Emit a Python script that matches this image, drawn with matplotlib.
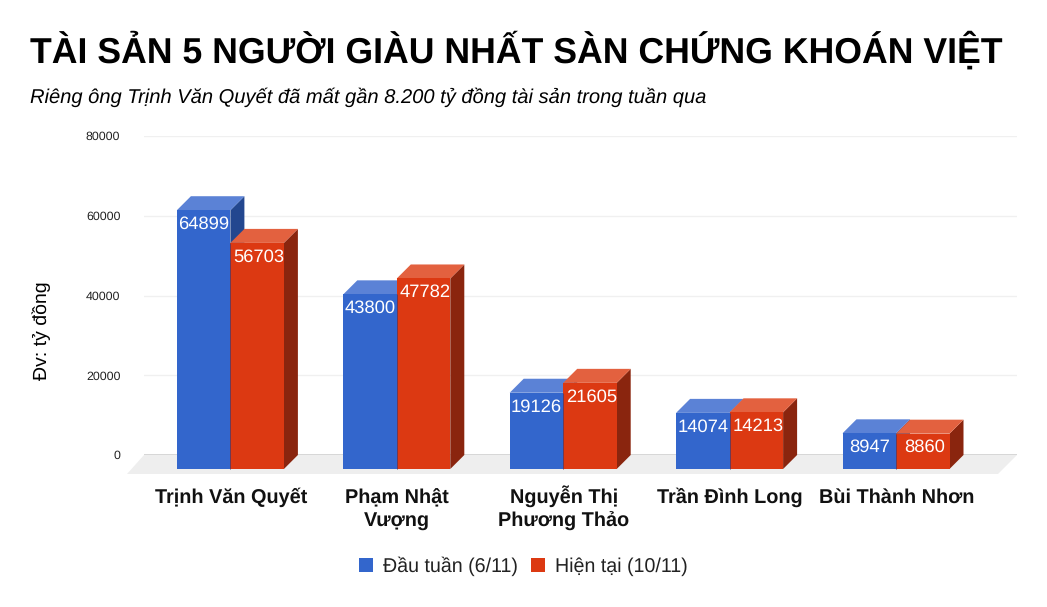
import matplotlib
matplotlib.use("Agg")
import matplotlib.pyplot as plt
from matplotlib.patches import Patch, Polygon

plt.rcParams['font.family'] = ['Liberation Sans', 'DejaVu Sans']
plt.rcParams['text.hinting'] = 'no_hinting'

names = ["Trịnh Văn Quyết", "Phạm Nhật\nVượng", "Nguyễn Thị\nPhương Thảo", "Trần Đình Long", "Bùi Thành Nhơn"]
dau_tuan = [64899, 43800, 19126, 14074, 8947]
hien_tai = [56703, 47782, 21605, 14213, 8860]
y_ticks = [0, 20000, 40000, 60000, 80000]
series_names = ["Đầu tuần (6/11)", "Hiện tại (10/11)"]

W, H = 1047, 607
BLUE = ("#3366cc", "#5b82d6", "#23478f")
RED = ("#dc3912", "#e3613f", "#8a250e")

fig = plt.figure(figsize=(W / 100, H / 100), dpi=100)
# axes box in pixels: x 144..1017, value 0 at y=455, 80000 at y=136
ax = fig.add_axes([144 / W, 1 - 455 / H, 873 / W, 319 / H])
ax.set_xlim((144 - 230.4) / 166.4, (1017 - 230.4) / 166.4)
ax.set_ylim(0, 80000)

px_x = 1 / 166.4
px_y = 80000 / 319
depth_x = 14 * px_x
depth_y = 14 * px_y
bar_w = 53.5 * px_x


def add_poly(pts, color, z):
    ax.add_patch(Polygon(pts, closed=True, facecolor=color, edgecolor="none", clip_on=False, zorder=z))


def bar3d(x0, val, cols, z, label_dx=0):
    # front face sits 14 px below the value line, depth goes up and to the right
    bottom = -depth_y
    top = val - depth_y
    x1 = x0 + bar_w
    add_poly([(x1, bottom), (x1 + depth_x, 0), (x1 + depth_x, val), (x1, top)], cols[2], z)
    add_poly([(x0, top), (x0 + depth_x, val), (x1 + depth_x, val), (x1, top)], cols[1], z)
    add_poly([(x0, bottom), (x1, bottom), (x1, top), (x0, top)], cols[0], z)
    ax.annotate(str(val), (x0 + bar_w / 2, val), xytext=(label_dx, -28), textcoords="offset pixels",
                ha="center", va="center", color="white", fontsize=13.2,
                zorder=z + 1)


# floor
x_l, x_r = ax.get_xlim()
add_poly([(x_l, 0), (x_r, 0), (x_r - 19 * px_x, -19 * px_y), (x_l - 17 * px_x, -19 * px_y)], "#eeeeee", 1)

for t in y_ticks[1:]:
    ax.axhline(t, color="#f0f0f0", lw=1, zorder=0)
ax.axhline(0, color="#333333", lw=1, zorder=2)

for i in range(len(names)):
    bar3d(i - bar_w, dau_tuan[i], BLUE, 3 + i * 2)
    bar3d(i, hien_tai[i], RED, 4 + i * 2, label_dx=1.5)
    # thin dark seam between the two front faces
    ax.plot([i, i], [-depth_y, min(dau_tuan[i], hien_tai[i]) - depth_y], color="#5a3a60", lw=0.6,
            solid_capstyle="butt", clip_on=False, zorder=4 + i * 2)

for s in ax.spines.values():
    s.set_visible(False)
ax.set_yticks(y_ticks)
ax.set_yticklabels([str(t) for t in y_ticks], fontsize=8.9, color="#222222")
ax.tick_params(axis="y", length=0, pad=17)
ax.set_xticks([])

# category labels line by line so the baselines stay level
for i, name in enumerate(names):
    for j, line in enumerate(name.split("\n")):
        ax.annotate(line, (i, 0), xytext=(0.5, -48 - 24 * j), textcoords="offset pixels", ha="center",
                    va="baseline", fontsize=14.3, fontweight="bold", color="#111111", annotation_clip=False)

fig.text(30 / W, 1 - 63 / H, "TÀI SẢN 5 NGƯỜI GIÀU NHẤT SÀN CHỨNG KHOÁN VIỆT", fontsize=25.7,
         fontweight="bold", color="black", ha="left", va="baseline")
fig.text(30 / W, 1 - 103 / H, "Riêng ông Trịnh Văn Quyết đã mất gần 8.200 tỷ đồng tài sản trong tuần qua",
         fontsize=14.48, fontstyle="italic", color="black", ha="left", va="baseline")
fig.text(42 / W, 1 - 331 / H, "Đv: tỷ đồng", fontsize=14, rotation=90, color="black",
         ha="center", va="center")

handles = [Patch(facecolor=BLUE[0], label=series_names[0]), Patch(facecolor=RED[0], label=series_names[1])]
fig.legend(handles=handles, loc="center", bbox_to_anchor=(523.5 / W, 1 - 566 / H), ncol=2, frameon=False,
           fontsize=14.1, handlelength=0.7, handleheight=0.7, handletextpad=0.5, columnspacing=0.7,
           labelcolor="#222222")

fig.savefig("out.png", dpi=100)
